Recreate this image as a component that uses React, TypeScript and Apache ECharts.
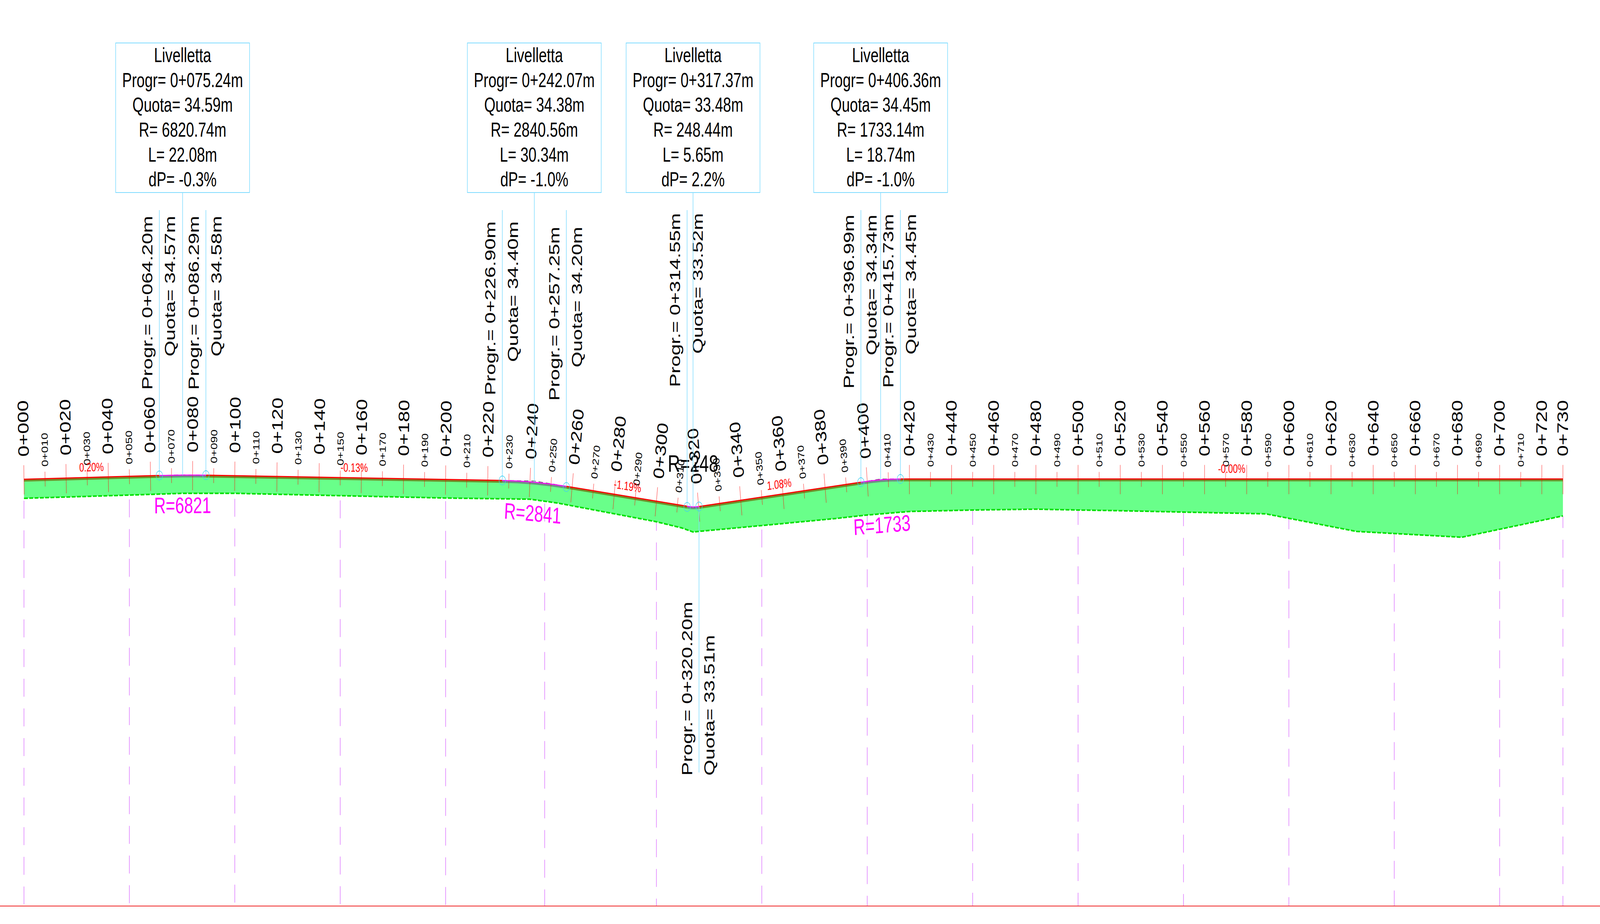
import React, { useEffect, useRef } from "react";
import * as echarts from "echarts";

// ---------- data (chainage in metres, levels in metres) ----------
const piChainage = [0, 75.24, 242.07, 317.37, 406.36, 730];
const piLevel = [34.44, 34.59, 34.38, 33.48, 34.45, 34.45];

const profileChainage = [0, 64.2, 69.72, 75.24, 80.77, 86.29, 226.9, 234.49, 242.07, 249.66, 257.25, 314.55, 315.96, 317.37, 318.78, 320.2, 396.99, 401.68, 406.36, 411.05, 415.73, 730];
const profileLevel = [34.44, 34.57, 34.578, 34.583, 34.583, 34.58, 34.4, 34.38, 34.34, 34.28, 34.2, 33.52, 33.504, 33.497, 33.499, 33.51, 34.34, 34.388, 34.422, 34.443, 34.45, 34.45];

const groundChainage = [0, 50, 75, 100, 150, 200, 240, 253, 300, 312, 317.4, 320, 350, 385, 400, 420, 450, 480, 500, 518, 550, 589, 632, 682, 730];
const groundLevel = [33.79, 33.9, 33.96, 33.96, 33.88, 33.8, 33.76, 33.63, 32.99, 32.78, 32.64, 32.66, 32.86, 33.1, 33.22, 33.34, 33.39, 33.42, 33.39, 33.37, 33.32, 33.26, 32.66, 32.46, 33.19];

const majorStations = [0, 20, 40, 60, 80, 100, 120, 140, 160, 180, 200, 220, 240, 260, 280, 300, 320, 340, 360, 380, 400, 420, 440, 460, 480, 500, 520, 540, 560, 580, 600, 620, 640, 660, 680, 700, 720, 730];
const minorStations = [10, 30, 50, 70, 90, 110, 130, 150, 170, 190, 210, 230, 250, 270, 290, 310, 330, 350, 370, 390, 410, 430, 450, 470, 490, 510, 530, 550, 570, 590, 610, 630, 650, 670, 690, 710];
const sectionStations = [0, 50, 100, 150, 200, 247, 300, 350, 400, 450, 500, 550, 600, 650, 700, 730];
const datumLevel = 19.87;

const curveStart = [64.2, 226.9, 314.55, 396.99];
const curveEnd = [86.29, 257.25, 320.2, 415.73];
const curveStartLevel = ["34.57", "34.40", "33.52", "34.34"];
const curveEndLevel = ["34.58", "34.20", "33.51", "34.45"];

const vertexChainage = [75.24, 242.07, 317.37, 406.36];
const vertexLevel = ["34.59", "34.38", "33.48", "34.45"];
const vertexRadius = ["6820.74", "2840.56", "248.44", "1733.14"];
const vertexLength = ["22.08", "30.34", "5.65", "18.74"];
const vertexDeltaGrade = ["-0.3", "-1.0", "2.2", "-1.0"];

const radiusLabels = ["R=6821", "R=2841", "R=248", "R=1733"];
const radiusLabelLevel = [33.55, 33.28, 34.98, 32.88];
const radiusLabelChainage = [75.24, 241.3, 317.37, 407];

const gradeLabels = ["0.20%", "-0.13%", "-1.19%", "1.08%", "-0.00%"];
const gradeLabelChainage = [32.1, 156.6, 285.9, 358.6, 572.9];

// ---------- page and scale set-up (styles only) ----------
const W = 5737;
const H = 2366;
const FONT = "Liberation Sans";
const LEADER = "#7fdcff";
const xMin = -86 / 7.559;
const xMax = (W - 86) / 7.559;
const yMax = 34.45 + 1226.5 / 75;
const yMin = 34.45 - (H - 1226.5) / 75;

// label placement, page pixels along the leader line
const curveStartTop = [553, 567, 546, 550];
const curveEndTop = [553, 581, 0, 548];
const belowTextStart = 1986;
const belowLeaderEnd = 1978;
const leaderTop = 538;
const boxTop = 110;
const boxBottom = 493;
const boxWidth = 480;
const boxLinePitch = 63.7;
const sectionDashEnd = [1328, 1325, 1323, 1327, 1329, 1336, 1359, 1402, 1352, 1344, 1344, 1347, 1355, 1414, 1407, 1352];

const station = (c: number) => `0+${String(c).padStart(3, "0")}`;
const chain2 = (c: number) => `0+${c.toFixed(2).padStart(6, "0")}m`;

function interp(xs: number[], ys: number[], x: number) {
  if (x <= xs[0]) return ys[0];
  for (let i = 1; i < xs.length; i++) {
    if (x <= xs[i]) {
      return ys[i - 1] + ((ys[i] - ys[i - 1]) * (x - xs[i - 1])) / (xs[i] - xs[i - 1]);
    }
  }
  return ys[ys.length - 1];
}
const profileAt = (c: number) => interp(profileChainage, profileLevel, c);
const groundAt = (c: number) => interp(groundChainage, groundLevel, c);

function polygonGrade(c: number) {
  let i = 1;
  while (i < piChainage.length - 1 && c > piChainage[i]) i++;
  return (piLevel[i] - piLevel[i - 1]) / (piChainage[i] - piChainage[i - 1]);
}
function gradeAt(c: number) {
  for (let k = 0; k < curveStart.length; k++) {
    if (c >= curveStart[k] && c <= curveEnd[k]) {
      if (c === 320) return polygonGrade(321);
      const g0 = polygonGrade(curveStart[k]);
      const g1 = polygonGrade(curveEnd[k] + 0.01);
      return g0 + ((g1 - g0) * (c - curveStart[k])) / (curveEnd[k] - curveStart[k]);
    }
  }
  return polygonGrade(c);
}

function frame(api: any, c: number) {
  const h = profileAt(c);
  const g = gradeAt(c);
  const p = api.coord([c, h]);
  const q = api.coord([c + 10, h + 10 * g]);
  const len = Math.hypot(q[0] - p[0], q[1] - p[1]);
  const tx = (q[0] - p[0]) / len;
  const ty = (q[1] - p[1]) / len;
  return { p, tx, ty, nx: ty, ny: -tx };
}

function text(str: string, x: number, y: number, size: number, opts: any = {}) {
  return {
    type: "text",
    x,
    y,
    rotation: opts.rotation || 0,
    scaleX: opts.scaleX || 1,
    style: {
      text: str,
      x: 0,
      y: 0,
      fontFamily: FONT,
      fontSize: size,
      fill: opts.fill || "#000",
      align: opts.align || "center",
      verticalAlign: "middle",
    },
  };
}

let zCounter = 1;
function layer(items: any[], draw: (item: any, api: any) => any) {
  return {
    type: "custom",
    coordinateSystem: "cartesian2d",
    silent: true,
    animation: false,
    z: zCounter++,
    encode: { x: 0, y: 1 },
    data: items.map(() => [0, 30]),
    renderItem: (params: any, api: any) => draw(items[params.dataIndex], api),
  };
}
function lineSeries(xs: number[], ys: number[], lineStyle: any) {
  return {
    type: "line",
    silent: true,
    symbol: "none",
    animation: false,
    clip: false,
    z: zCounter++,
    data: xs.map((x, i) => [x, ys[i]]),
    lineStyle,
  };
}
function slicePoints(from: number, to: number) {
  const xs: number[] = [];
  const ys: number[] = [];
  profileChainage.forEach((c, i) => {
    if (c >= from && c <= to) {
      xs.push(c);
      ys.push(profileLevel[i]);
    }
  });
  return [xs, ys] as const;
}

function buildOption() {
  zCounter = 1;
  const series: any[] = [];

  // section lines behind the fill
  series.push(
    layer(sectionStations.map((c, i) => ({ c, end: sectionDashEnd[i] })), (d, api) => {
      const a = api.coord([d.c, groundAt(d.c)]);
      const b = api.coord([d.c, datumLevel]);
      const off = (((46 - (d.end - a[1])) % 76) + 76) % 76;
      return {
        type: "line",
        shape: { x1: a[0], y1: a[1], x2: b[0], y2: b[1] },
        style: { stroke: "#dd77ff", lineWidth: 2, lineDash: [46, 30], lineDashOffset: off },
      };
    })
  );

  // earthwork band
  series.push(
    layer([0], (_d, api) => {
      const top = profileChainage.map((c, i) => api.coord([c, profileLevel[i]]));
      const low = groundChainage.map((c, i) => api.coord([c, groundLevel[i]])).reverse();
      return { type: "polygon", shape: { points: [...top, ...low] }, style: { fill: "#69ff8a" } };
    })
  );

  // strip under the grade line
  const tangentRanges = [
    [0, curveStart[0]],
    [curveEnd[0], curveStart[1]],
    [curveEnd[1], curveStart[2]],
    [curveEnd[2], curveStart[3]],
    [curveEnd[3], 730],
  ];
  const curveRanges = curveStart.map((s, i) => [s, curveEnd[i]]);
  const strip = (range: number[], color: string) =>
    layer([range], (r, api) => {
      const [xs, ys] = slicePoints(r[0], r[1]);
      const pts = xs.map((c, i) => {
        const p = api.coord([c, ys[i]]);
        return [p[0], p[1] + 3.5];
      });
      return { type: "polyline", shape: { points: pts }, style: { stroke: color, lineWidth: 5, fill: "none" } };
    });
  tangentRanges.forEach((r) => series.push(strip(r, "#6e8f2a")));
  curveRanges.forEach((r) => series.push(strip(r, "#6f8f84")));

  // ground line
  series.push(lineSeries(groundChainage, groundLevel, { color: "#00e000", width: 4, type: [14, 5] }));

  // tick marks
  const tick = (up: number, down: number) => (c: number, api: any) => {
    const f = frame(api, c);
    return {
      type: "line",
      shape: {
        x1: f.p[0] + f.nx * up,
        y1: f.p[1] + f.ny * up,
        x2: f.p[0] - f.nx * down,
        y2: f.p[1] - f.ny * down,
      },
      style: { stroke: "rgba(255,0,0,0.55)", lineWidth: 2 },
    };
  };
  series.push(layer(majorStations, tick(36, 39)));
  series.push(layer(minorStations, tick(18, 20)));

  // grade line
  tangentRanges.forEach((r) => {
    const [xs, ys] = slicePoints(r[0], r[1]);
    series.push(lineSeries(xs, ys, { color: "#ff0000", width: 3 }));
  });
  curveRanges.forEach((r, k) => {
    series.push(
      lineSeries([r[0], vertexChainage[k], r[1]], [profileAt(r[0]), piLevel[k + 1], profileAt(r[1])], {
        color: "#222222",
        width: 2,
        type: [16, 10],
        opacity: 0.7,
      })
    );
    const [xs, ys] = slicePoints(r[0], r[1]);
    series.push(lineSeries(xs, ys, { color: "#ff00ff", width: 2.5 }));
  });

  // station labels
  const stationLabel = (dist: number, size: number, sx: number) => (c: number, api: any) => {
    const f = frame(api, c);
    return text(station(c), f.p[0] + f.nx * dist, f.p[1] + f.ny * dist, size, {
      align: "left",
      rotation: Math.atan2(-f.ny, f.nx),
      scaleX: sx,
    });
  };
  series.push(layer(minorStations, stationLabel(31, 32, 0.96)));
  series.push(layer(majorStations, stationLabel(58, 54, 0.95)));

  // grade labels
  series.push(
    layer(gradeLabels.map((t, i) => ({ t, c: gradeLabelChainage[i] })), (d, api) => {
      const f = frame(api, d.c);
      return text(d.t, f.p[0] + f.nx * 26, f.p[1] + f.ny * 26, 31, {
        fill: "#ff0000",
        rotation: Math.atan2(-f.ty, f.tx),
      });
    })
  );

  // radius labels
  series.push(
    layer(radiusLabels.map((t, i) => ({ t, i })), (d, api) => {
      const a = api.coord([curveStart[d.i], profileAt(curveStart[d.i])]);
      const b = api.coord([curveEnd[d.i], profileAt(curveEnd[d.i])]);
      const p = api.coord([radiusLabelChainage[d.i], radiusLabelLevel[d.i]]);
      return text(d.t, p[0], p[1], d.i === 2 ? 61 : 58, {
        fill: d.i === 2 ? "#000000" : "#ff00ff",
        rotation: d.i === 2 ? 0 : Math.atan2(-(b[1] - a[1]), b[0] - a[0]),
      });
    })
  );

  // curve end leaders, circles and labels
  const curvePoints: any[] = [];
  curveStart.forEach((c, i) => curvePoints.push({ c, level: curveStartLevel[i], top: curveStartTop[i] }));
  curveEnd.forEach((c, i) => curvePoints.push({ c, level: curveEndLevel[i], top: curveEndTop[i], below: i === 2 }));
  series.push(
    layer(curvePoints, (d, api) => {
      const p = api.coord([d.c, profileAt(d.c)]);
      const rot = Math.PI / 2;
      const align = d.below ? "left" : "right";
      const yAnchor = d.below ? belowTextStart : d.top;
      return {
        type: "group",
        children: [
          {
            type: "line",
            shape: { x1: p[0], y1: p[1], x2: p[0], y2: d.below ? belowLeaderEnd : leaderTop },
            style: { stroke: LEADER, lineWidth: 2 },
          },
          {
            type: "circle",
            shape: { cx: p[0], cy: p[1], r: 11.5 },
            style: { stroke: "#40d0f0", lineWidth: 1.5, fill: "none" },
          },
          text(`Progr.= ${chain2(d.c)}`, p[0] - 43, yAnchor, 52, { rotation: rot, align }),
          text(`Quota= ${d.level}m`, p[0] + 38, yAnchor, 52, { rotation: rot, align }),
        ],
      };
    })
  );

  // vertex boxes
  series.push(
    layer(vertexChainage.map((c, i) => ({ c, i })), (d, api) => {
      const p = api.coord([d.c, profileAt(d.c)]);
      const lines = [
        "Livelletta",
        `Progr= ${chain2(d.c)}`,
        `Quota= ${vertexLevel[d.i]}m`,
        `R= ${vertexRadius[d.i]}m`,
        `L= ${vertexLength[d.i]}m`,
        `dP= ${vertexDeltaGrade[d.i]}%`,
      ];
      return {
        type: "group",
        children: [
          {
            type: "rect",
            shape: { x: p[0] - boxWidth / 2, y: boxTop, width: boxWidth, height: boxBottom - boxTop },
            style: { stroke: LEADER, lineWidth: 2, fill: "none" },
          },
          {
            type: "line",
            shape: { x1: p[0], y1: boxBottom, x2: p[0], y2: p[1] },
            style: { stroke: LEADER, lineWidth: 2 },
          },
          ...lines.map((t, k) => text(t, p[0], 141 + k * boxLinePitch, 52)),
        ],
      };
    })
  );

  // datum line
  series.push(lineSeries([xMin, xMax], [datumLevel, datumLevel], { color: "#ee2222", width: 2 }));

  return {
    animation: false,
    backgroundColor: "#ffffff",
    grid: { left: 0, right: 0, top: 0, bottom: 0 },
    xAxis: { type: "value", min: xMin, max: xMax, show: false },
    yAxis: { type: "value", min: yMin, max: yMax, show: false },
    series,
  };
}

export default function App() {
  const ref = useRef<HTMLDivElement>(null);
  useEffect(() => {
    document.body.style.margin = "0";
    document.documentElement.style.overflow = "hidden";
    // The browser caps its window below the drawing's 5737px, so the whole
    // drawing is fitted to the width the window really has.
    const el = ref.current as HTMLDivElement;
    const fit = Math.min(1, window.innerWidth / W);
    el.style.transform = `scale(${fit}, 1)`;
    el.style.transformOrigin = "0 0";
    const chart = echarts.init(el, undefined, { renderer: "svg" });
    chart.setOption(buildOption() as any);
    return () => chart.dispose();
  }, []);
  return <div ref={ref} style={{ width: W, height: H }} />;
}
